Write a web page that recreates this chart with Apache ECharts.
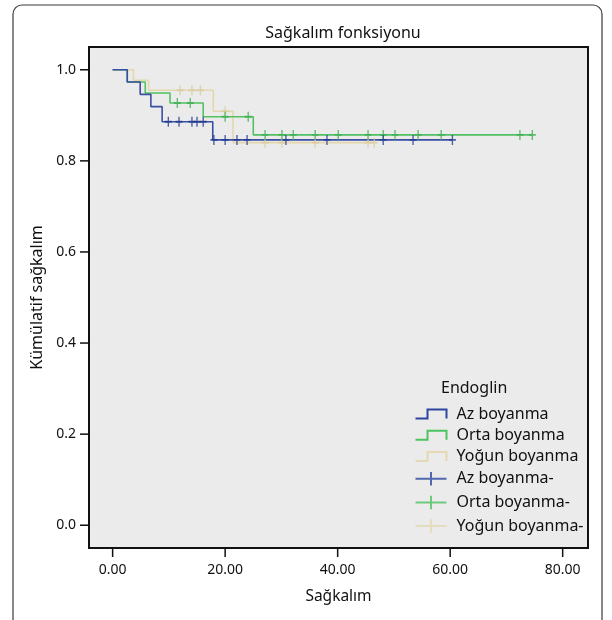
<!DOCTYPE html>
<html><head><meta charset="utf-8">
<script src="https://cdn.jsdelivr.net/npm/echarts@6/dist/echarts.min.js"></script>
<style>html,body{margin:0;padding:0;background:#fff}#c{width:612px;height:620px}</style>
</head><body><div id="c"></div>
<script>
// Kaplan-Meier step data (time of event, survival after event); last entry = end of follow-up
const azTimes = [0, 2.6, 4.9, 6.8, 8.8, 17.8, 60.4];
const azSurv  = [1, 0.973, 0.946, 0.919, 0.886, 0.846, 0.846];
const azCens  = [9.9, 11.8, 14.1, 15.0, 16.1, 18.0, 20.0, 22.1, 23.9, 30.8, 38.1, 48.1, 53.4, 60.4];

const ortaTimes = [0, 2.6, 5.8, 10.2, 16.1, 25.0, 74.6];
const ortaSurv  = [1, 0.973, 0.949, 0.927, 0.897, 0.857, 0.857];
const ortaCens  = [11.5, 13.8, 20.0, 24.1, 27.1, 30.1, 32.1, 36.0, 40.1, 45.4, 48.1, 50.2, 54.3, 58.4, 72.4, 74.6];

const yogunTimes = [0, 3.7, 6.4, 17.9, 21.4, 46.5];
const yogunSurv  = [1, 0.977, 0.955, 0.909, 0.840, 0.840];
const yogunCens  = [12.0, 14.1, 15.6, 20.0, 27.1, 30.1, 36.0, 45.4, 46.5];

const groupNames = ['Az boyanma', 'Orta boyanma', 'Yoğun boyanma'];
const censNames  = ['Az boyanma-', 'Orta boyanma-', 'Yoğun boyanma-'];
const xTicks = [0, 20, 40, 60, 80];
const yTicks = [0, 0.2, 0.4, 0.6, 0.8, 1.0];
const X_MIN = -4.2, X_MAX = 84.5, Y_MIN = -0.05, Y_MAX = 1.05;

const lineColors = ['#3a4ea3', '#52c162', '#e3d7ae'];
const markColors = ['#22398f', '#3fae52', '#d9cc9d'];
const legendColors = ['#2c46a0', '#4cc35e', '#e4d9b3'];
const FONT = 'Noto Sans';

function stepData(t, s) { return t.map((v, i) => [v, s[i]]); }
function survAt(t, s, x) { let v = s[0]; for (let i = 0; i < t.length; i++) { if (t[i] <= x) v = s[i]; } return v; }
function censData(t, s, c) { return c.map(x => [x, survAt(t, s, x)]); }

const steps = [stepData(azTimes, azSurv), stepData(ortaTimes, ortaSurv), stepData(yogunTimes, yogunSurv)];
const cens = [censData(azTimes, azSurv, azCens), censData(ortaTimes, ortaSurv, ortaCens), censData(yogunTimes, yogunSurv, yogunCens)];

const stepIcon = 'path://M0,9 L12,9 L12,0 L31,0 L31,9';
const plusIcon = 'path://M0,6.5 L30,6.5 M15,0 L15,13';
const markSym = 'path://M0,5 L10,5 M5,0 L5,10';

const series = [];
groupNames.forEach((n, i) => {
  series.push({
    name: n, type: 'line', step: 'end', data: steps[i], showSymbol: false, symbol: 'none',
    lineStyle: { color: lineColors[i], width: 1.6 }, itemStyle: { color: lineColors[i] },
    z: 3 - i, animation: false
  });
});
censNames.forEach((n, i) => {
  series.push({
    name: n, type: 'scatter', data: cens[i], symbol: markSym, symbolSize: [7, 10],
    itemStyle: { color: 'none', borderColor: markColors[i], borderWidth: 1.6 },
    z: 6 - i, animation: false
  });
});

const legendData = [];
groupNames.forEach((n, i) => legendData.push({ name: n, icon: stepIcon,
  itemStyle: { color: 'none', borderColor: legendColors[i], borderWidth: 2 } }));
censNames.forEach((n, i) => legendData.push({ name: n, icon: plusIcon,
  itemStyle: { color: 'none', borderColor: legendColors[i], borderWidth: 2 } }));

const frame = {
  type: 'rect', id: 'frame', shape: { x: 13, y: 5, width: 589, height: 650, r: 9 },
  style: { fill: 'none', stroke: '#3a3a3a', lineWidth: 1.2 }, z: -10
};

const chart = echarts.init(document.getElementById('c'), null, { renderer: 'canvas' });
chart.setOption({
  animation: false,
  backgroundColor: '#ffffff',
  textStyle: { fontFamily: FONT },
  graphic: [frame],
  title: [
    { text: 'Sağkalım fonksiyonu', left: 338, top: 20, textAlign: 'center',
      textStyle: { fontFamily: FONT, fontSize: 16, fontWeight: 'normal', color: '#111' } },
    { text: 'Endoglin', left: 436, top: 375,
      textStyle: { fontFamily: FONT, fontSize: 16, fontWeight: 'normal', color: '#111' } }
  ],
  legend: {
    orient: 'vertical', left: 408, top: 401, itemWidth: 31, itemHeight: 14, itemGap: 5.2,
    data: legendData, selectedMode: false,
    textStyle: { fontFamily: FONT, fontSize: 16, lineHeight: 16, color: '#111', padding: [0, 0, 0, 5] }
  },
  grid: {
    left: 89, top: 47, width: 499, height: 501, show: true,
    backgroundColor: '#ebebeb', borderColor: '#111', borderWidth: 2
  },
  xAxis: {
    type: 'value', min: X_MIN, max: X_MAX,
    name: 'Sağkalım', nameLocation: 'middle', nameGap: 41,
    nameTextStyle: { fontFamily: FONT, fontSize: 15.5, color: '#111' },
    axisLine: { show: true, onZero: false, lineStyle: { color: '#111', width: 2 } },
    axisTick: { show: false },
    axisLabel: { customValues: xTicks, margin: 15, fontFamily: FONT, fontSize: 14, color: '#111',
      formatter: v => v.toFixed(2) },
    splitLine: { show: false }
  },
  yAxis: {
    type: 'value', min: Y_MIN, max: Y_MAX,
    name: 'Kümülatif sağkalım', nameLocation: 'middle', nameGap: 44, nameRotate: 90,
    nameTextStyle: { fontFamily: FONT, fontSize: 16, color: '#111' },
    axisLine: { show: true, onZero: false, lineStyle: { color: '#111', width: 2 } },
    axisTick: { show: false },
    axisLabel: { customValues: yTicks, margin: 13, fontFamily: FONT, fontSize: 14, color: '#111',
      formatter: v => v.toFixed(1) },
    splitLine: { show: false }
  },
  series: series
});

// tick marks placed through the chart's own coordinate conversion
const tickEls = [frame];
xTicks.forEach((v, i) => {
  const p = chart.convertToPixel({ gridIndex: 0 }, [v, Y_MIN]);
  tickEls.push({ type: 'line', id: 'xt' + i, z: 50,
    shape: { x1: p[0], y1: p[1], x2: p[0], y2: p[1] + 9 },
    style: { stroke: '#111', lineWidth: 1.5 } });
});
yTicks.forEach((v, i) => {
  const p = chart.convertToPixel({ gridIndex: 0 }, [X_MIN, v]);
  tickEls.push({ type: 'line', id: 'yt' + i, z: 50,
    shape: { x1: p[0] - 9, y1: p[1], x2: p[0], y2: p[1] },
    style: { stroke: '#111', lineWidth: 1.5 } });
});
chart.setOption({ graphic: tickEls });
</script></body></html>
